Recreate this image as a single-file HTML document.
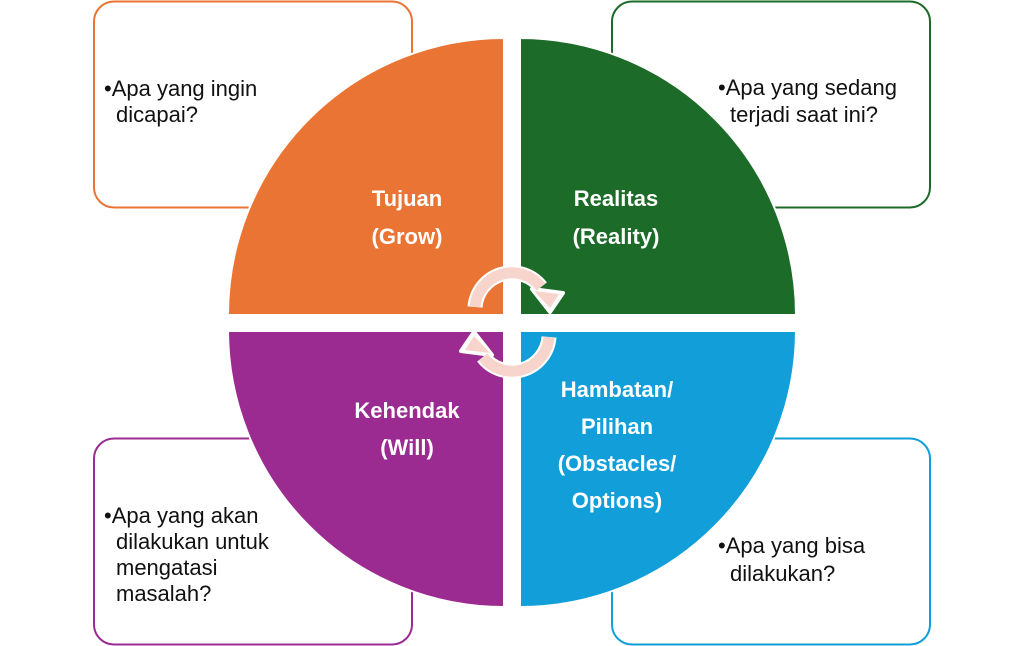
<!DOCTYPE html>
<html><head><meta charset="utf-8"><style>
html,body{margin:0;padding:0;background:#fff;}
svg{display:block;}
.b{font-family:"Liberation Sans",sans-serif;font-size:22px;fill:#111;}
.w{font-family:"Liberation Sans",sans-serif;font-size:22px;font-weight:bold;fill:#fff;text-anchor:middle;}
</style></head><body>
<svg width="1024" height="646" viewBox="0 0 1024 646" xmlns="http://www.w3.org/2000/svg">
<rect x="94" y="1.5" width="318" height="206" rx="20" fill="#fff" stroke="#ea7434" stroke-width="2"/>
<rect x="612" y="1.5" width="318" height="206" rx="20" fill="#fff" stroke="#1d6b28" stroke-width="2"/>
<rect x="94" y="438.5" width="318" height="206" rx="20" fill="#fff" stroke="#9c2b91" stroke-width="2"/>
<rect x="612" y="438.5" width="318" height="206" rx="20" fill="#fff" stroke="#129fd9" stroke-width="2"/>

<path d="M504,315 L228,315 A276,277 0 0 1 504,38 Z" fill="#ea7434" stroke="#fff" stroke-width="2"/>
<path d="M520,315 L520,38 A276,277 0 0 1 796,315 Z" fill="#1d6b28" stroke="#fff" stroke-width="2"/>
<path d="M504,331 L504,607 A276,277 0 0 1 228,331 Z" fill="#9c2b91" stroke="#fff" stroke-width="2"/>
<path d="M520,331 L796,331 A276,277 0 0 1 520,607 Z" fill="#129fd9" stroke="#fff" stroke-width="2"/>

<text class="b" x="104" y="96">•Apa yang ingin</text>
<text class="b" x="116" y="122">dicapai?</text>
<text class="b" x="718" y="95">•Apa yang sedang</text>
<text class="b" x="730" y="122">terjadi saat ini?</text>
<text class="b" x="104" y="523">•Apa yang akan</text>
<text class="b" x="116" y="549">dilakukan untuk</text>
<text class="b" x="116" y="575">mengatasi</text>
<text class="b" x="116" y="601">masalah?</text>
<text class="b" x="718" y="553">•Apa yang bisa</text>
<text class="b" x="730" y="581">dilakukan?</text>

<text class="w" x="407" y="206">Tujuan</text>
<text class="w" x="407" y="244">(Grow)</text>
<text class="w" x="616" y="206">Realitas</text>
<text class="w" x="616" y="244">(Reality)</text>
<text class="w" x="407" y="418">Kehendak</text>
<text class="w" x="407" y="455">(Will)</text>
<text class="w" x="617" y="397">Hambatan/</text>
<text class="w" x="617" y="434">Pilihan</text>
<text class="w" x="617" y="471">(Obstacles/</text>
<text class="w" x="617" y="508">Options)</text>

<g id="arr">
<path d="M475,307 A37,37 0 0 1 541,287" fill="none" stroke="#fff" stroke-width="15"/>
<polygon points="532,289 563,293 550,312" fill="#fff" stroke="#fff" stroke-width="4" stroke-linejoin="round"/>
<path d="M475,307 A37,37 0 0 1 541,287" fill="none" stroke="#f8d5cc" stroke-width="11"/>
<polygon points="534,291 559,294 550,308" fill="#f8d5cc"/>
</g>
<use href="#arr" transform="rotate(180 512 322)"/>
</svg>
</body></html>
